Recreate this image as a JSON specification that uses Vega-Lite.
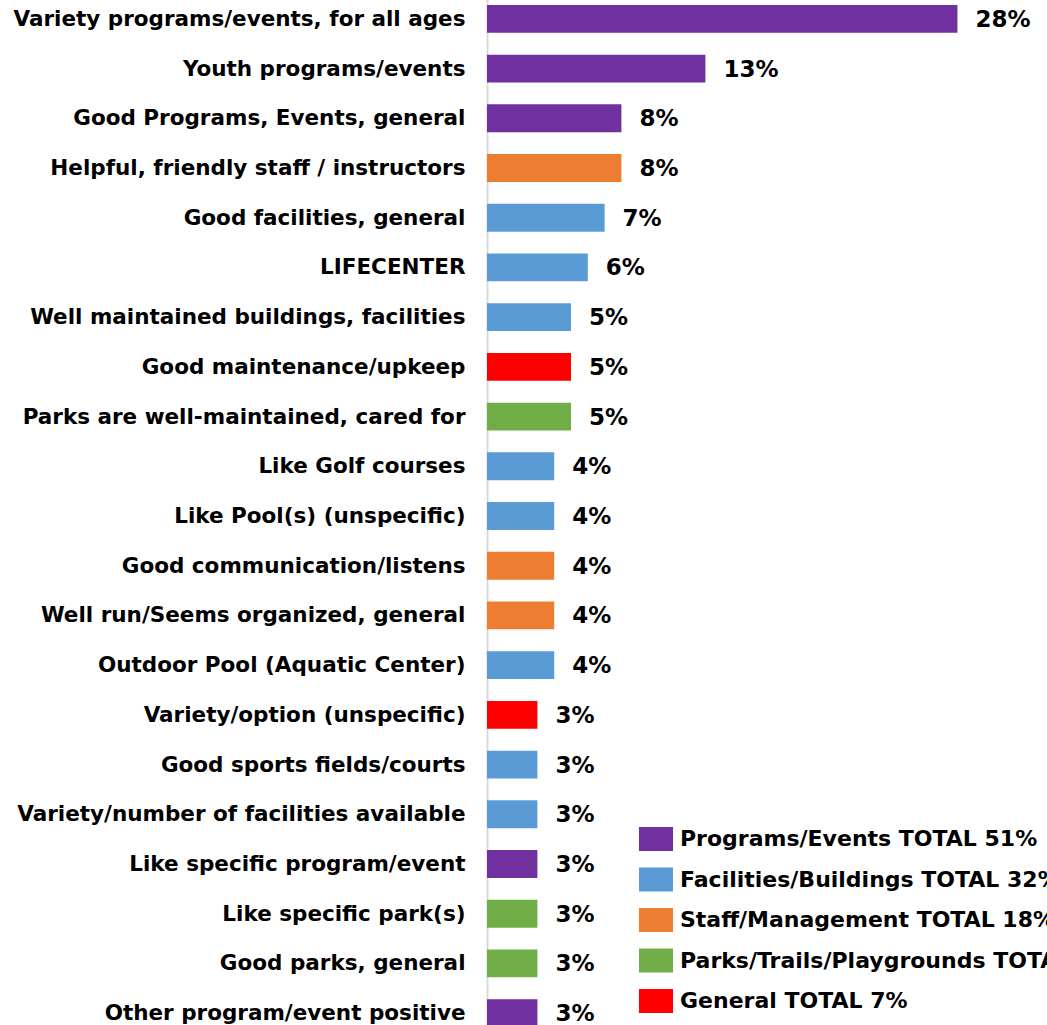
{
  "$schema": "https://vega.github.io/schema/vega-lite/v6.json",
  "width": 560,
  "height": 1044,
  "autosize": {"type": "none"},
  "padding": {"left": 487, "top": -6, "right": 0, "bottom": 0},
  "background": "white",
  "config": {"view": {"stroke": null}, "font": "DejaVu Sans"},
  "data": {"values": [
    {"item": "Variety programs/events, for all ages", "pct": 0.28, "group": "Programs/Events TOTAL 51%"},
    {"item": "Youth programs/events", "pct": 0.13, "group": "Programs/Events TOTAL 51%"},
    {"item": "Good Programs, Events, general", "pct": 0.08, "group": "Programs/Events TOTAL 51%"},
    {"item": "Helpful, friendly staff / instructors", "pct": 0.08, "group": "Staff/Management TOTAL 18%"},
    {"item": "Good facilities, general", "pct": 0.07, "group": "Facilities/Buildings TOTAL 32%"},
    {"item": "LIFECENTER", "pct": 0.06, "group": "Facilities/Buildings TOTAL 32%"},
    {"item": "Well maintained buildings, facilities", "pct": 0.05, "group": "Facilities/Buildings TOTAL 32%"},
    {"item": "Good maintenance/upkeep", "pct": 0.05, "group": "General TOTAL 7%"},
    {"item": "Parks are well-maintained, cared for", "pct": 0.05, "group": "Parks/Trails/Playgrounds TOTAL 11%"},
    {"item": "Like Golf courses", "pct": 0.04, "group": "Facilities/Buildings TOTAL 32%"},
    {"item": "Like Pool(s) (unspecific)", "pct": 0.04, "group": "Facilities/Buildings TOTAL 32%"},
    {"item": "Good communication/listens ", "pct": 0.04, "group": "Staff/Management TOTAL 18%"},
    {"item": "Well run/Seems organized, general", "pct": 0.04, "group": "Staff/Management TOTAL 18%"},
    {"item": "Outdoor Pool (Aquatic Center)", "pct": 0.04, "group": "Facilities/Buildings TOTAL 32%"},
    {"item": "Variety/option (unspecific)", "pct": 0.03, "group": "General TOTAL 7%"},
    {"item": "Good sports fields/courts", "pct": 0.03, "group": "Facilities/Buildings TOTAL 32%"},
    {"item": "Variety/number of facilities available", "pct": 0.03, "group": "Facilities/Buildings TOTAL 32%"},
    {"item": "Like specific program/event", "pct": 0.03, "group": "Programs/Events TOTAL 51%"},
    {"item": "Like specific park(s)", "pct": 0.03, "group": "Parks/Trails/Playgrounds TOTAL 11%"},
    {"item": "Good parks, general", "pct": 0.03, "group": "Parks/Trails/Playgrounds TOTAL 11%"},
    {"item": "Other program/event positive", "pct": 0.03, "group": "Programs/Events TOTAL 51%"}
  ]},
  "encoding": {
    "y": {
      "field": "item", "type": "nominal", "sort": null,
      "scale": {"paddingInner": 0.44, "paddingOuter": 0.22},
      "axis": {
        "title": null, "ticks": false, "domainColor": "#D9D9D9", "domainWidth": 2,
        "labelFont": "DejaVu Sans", "labelFontWeight": "bold", "labelFontSize": 21.5,
        "labelColor": "black", "labelPadding": 22, "labelLimit": 600, "labelOffset": 1
      }
    },
    "x": {
      "field": "pct", "type": "quantitative",
      "scale": {"domain": [0, 0.3333], "nice": false},
      "axis": null
    }
  },
  "layer": [
    {
      "mark": {"type": "bar"},
      "encoding": {
        "color": {
          "field": "group", "type": "nominal",
          "scale": {
            "domain": ["Programs/Events TOTAL 51%", "Facilities/Buildings TOTAL 32%", "Staff/Management TOTAL 18%", "Parks/Trails/Playgrounds TOTAL 11%", "General TOTAL 7%"],
            "range": ["#7030A0", "#5B9BD5", "#ED7D31", "#70AD47", "#FF0000"]
          },
          "legend": {
            "title": null, "orient": "none", "legendX": 157, "legendY": 833,
            "symbolType": "M-1.42,-1H1.42V1H-1.42Z", "symbolSize": 576,
            "symbolStrokeWidth": 0, "symbolOpacity": 1,
            "labelFont": "DejaVu Sans", "labelFontWeight": "bold", "labelFontSize": 22,
            "labelColor": "black", "labelLimit": 800, "rowPadding": 16.5, "labelOffset": 12
          }
        }
      }
    },
    {
      "mark": {"type": "text", "align": "left", "dx": 18, "dy": 1, "font": "DejaVu Sans", "fontWeight": "bold", "fontSize": 23, "color": "black"},
      "encoding": {"text": {"field": "pct", "type": "quantitative", "format": ".0%"}}
    }
  ]
}
